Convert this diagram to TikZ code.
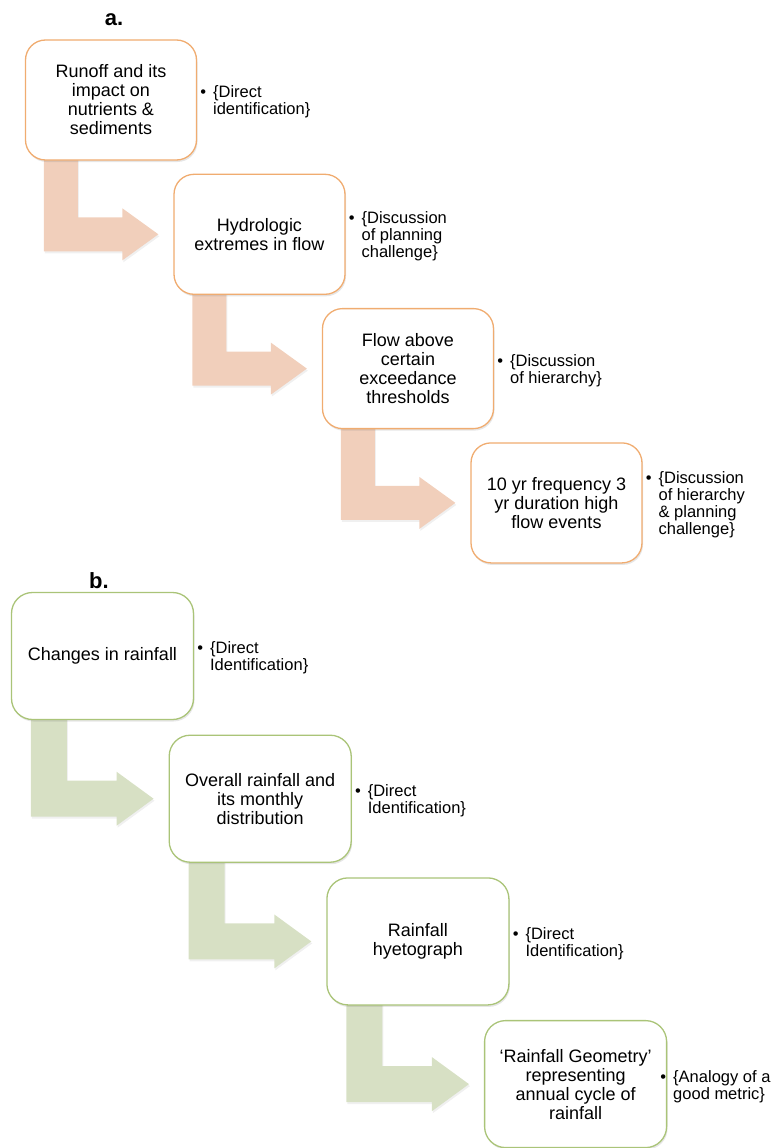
\documentclass[tikz,border=0pt]{standalone}
\usepackage{fontspec}
\setmainfont{Liberation Sans}
\usetikzlibrary{calc,shadows,backgrounds}

\definecolor{peachline}{RGB}{240,172,112}
\definecolor{peachfill}{RGB}{241,207,187}
\definecolor{sageline}{RGB}{170,196,120}
\definecolor{sagefill}{RGB}{215,224,196}

\begin{document}
\begin{tikzpicture}[x=1pt,y=1pt]
        \tikzset{stage/.style = {draw, fill=white, line width=1.3pt, rounded corners=20pt,
                minimum width=171pt, minimum height=120pt, inner sep=0pt, align=center,
                font=\fontsize{18}{19}\selectfont,
                drop shadow={shadow xshift=1pt, shadow yshift=-2pt, opacity=0.2}}}
        \tikzset{note/.style = {anchor=west, inner sep=0pt, font=\fontsize{16.5}{17}\selectfont}}
        \tikzset{panel/.style = {inner sep=0pt, font=\fontsize{22}{24}\selectfont\bfseries}}
        \tikzset{shade/.style = {drop shadow={shadow xshift=1pt, shadow yshift=-2pt, opacity=0.12}}}

        \useasboundingbox (0,0) rectangle (776,-1148);

        % panel labels
        \node[panel] (la) at (114,-20) {a.};
        \node[panel] (lb) at (99,-581) {b.};

        % stages of panel a
        \foreach \i/\txt in {1/{Runoff and its\\impact on\\nutrients \&\\sediments},
                             2/{Hydrologic\\extremes in flow},
                             3/{Flow above\\certain\\exceedance\\thresholds},
                             4/{10 yr frequency 3\\yr duration high\\flow events}}
            \node[stage, draw=peachline] (a\i) at ({111+148.5*(\i-1)}, {-100-134.3*(\i-1)}) {\txt};

        % stages of panel b
        \foreach \i/\txt in {1/{Changes in rainfall},
                             2/{Overall rainfall and\\its monthly\\distribution},
                             3/{Rainfall\\hyetograph},
                             4/{‘Rainfall Geometry’\\representing\\annual cycle of\\rainfall}}
            \node[stage, draw=sageline, minimum width=182pt, minimum height=127pt, rounded corners=21pt]
                (b\i) at ({102.5+157.7*(\i-1)}, {-656-142.7*(\i-1)}) {\txt};

        % notes
        \foreach \n/\dx/\txt in {a1/3/{\{Direct\\identification\}},
                                 a2/3/{\{Discussion\\of planning\\challenge\}},
                                 a3/3/{\{Discussion\\of hierarchy\}},
                                 a4/3/{\{Discussion\\of hierarchy\\\& planning\\challenge\}},
                                 b1/3/{\{Direct\\Identification\}},
                                 b2/3/{\{Direct\\Identification\}},
                                 b3/3/{\{Direct\\Identification\}},
                                 b4/-7/{\{Analogy of a\\good metric\}}}
            \node[note] (n\n) at ($(\n.east)+(\dx,-3)$)
                {\textbullet\hspace{7pt}\begin{tabular}[t]{@{}l@{}}\txt\end{tabular}};

        % bent arrows
        \begin{scope}[on background layer]
        \foreach \i [evaluate=\i as \j using int(\i+1)] in {1,2,3}
            \fill[peachfill, shade] ($(a\i.south west)+(19,10)$) |- ($(a\j.west)+(-51,-17)$)
                -- ++(0,-9) -- ($(a\j.west)+(-15,0)$) -- ($(a\j.west)+(-51,26)$)
                -- ++(0,-9) -| ($(a\i.south west)+(53,10)$) -- cycle;
        \foreach \i [evaluate=\i as \j using int(\i+1)] in {1,2,3}
            \fill[sagefill, shade] ($(b\i.south west)+(20,10)$) |- ($(b\j.west)+(-52,-18)$)
                -- ++(0,-9) -- ($(b\j.west)+(-15,0)$) -- ($(b\j.west)+(-52,27)$)
                -- ++(0,-9) -| ($(b\i.south west)+(56,10)$) -- cycle;
        \end{scope}

\end{tikzpicture}
\end{document}
